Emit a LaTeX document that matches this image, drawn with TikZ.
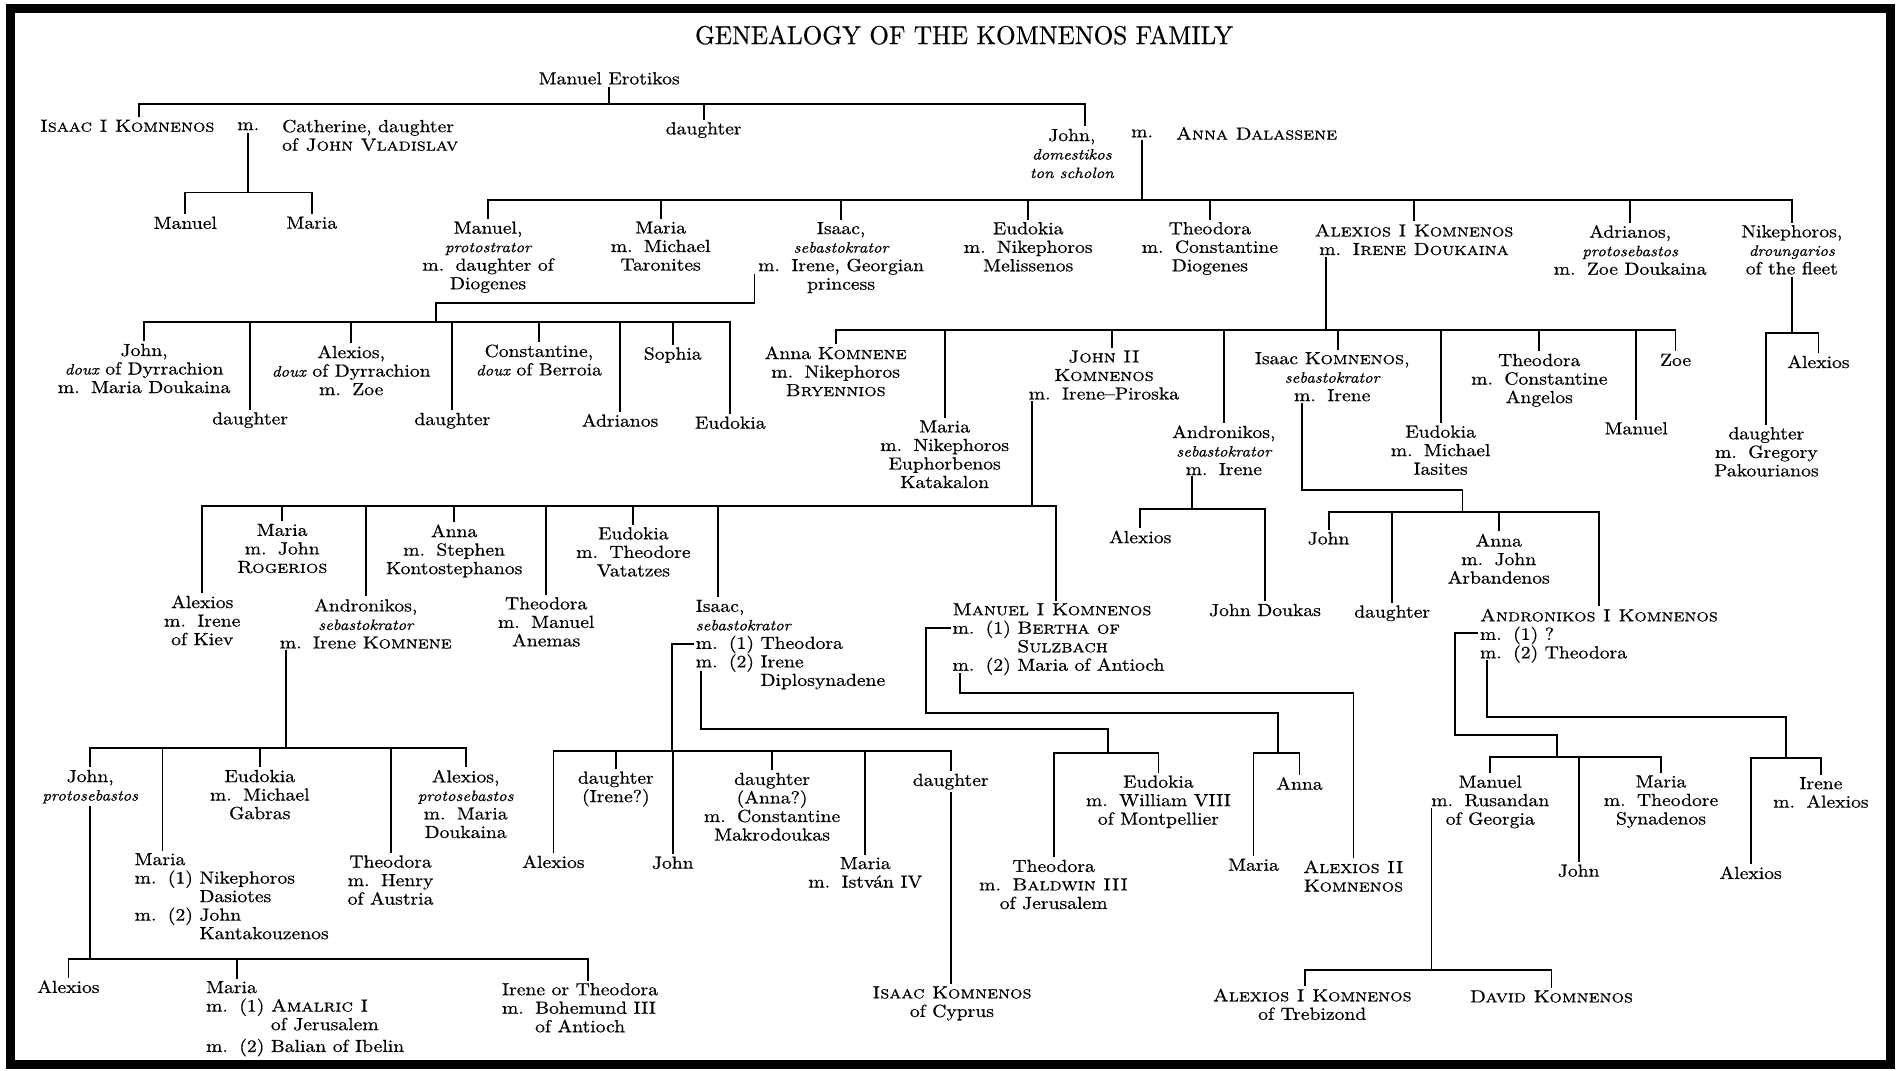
\documentclass[tikz,border=0pt]{standalone}
\usepackage{graphicx}
\usepackage{fontspec}
\setmainfont{lmroman10-regular.otf}[
  ItalicFont = lmroman10-italic.otf,
  BoldFont = lmroman10-bold.otf,
  SmallCapsFont = lmromancaps10-regular.otf,
  FakeStretch = 1.12,
  FakeBold = 0.6]
\usetikzlibrary{calc}

\newcommand{\wed}{m.\hspace{0.65em}}
\newcommand{\office}[1]{{\fontsize{9}{11.1}\selectfont\itshape #1}}

\tikzset{
  person/.style={anchor=north, yshift=5.2pt, inner sep=0pt, outer xsep=0pt, outer ysep=1.5pt,
    align=center, font=\fontsize{10.5}{11.1}\selectfont},
  personl/.style={person, anchor=north west, align=left},
  heading/.style={inner sep=0pt, font=\fontsize{15.5}{18}\selectfont},
}

\begin{document}
\begin{tikzpicture}[x=0.726pt, y=-0.726pt, line width=1.1pt]
\useasboundingbox (0,0) rectangle (1568,884);
\draw[line width=5.3pt] (9,7) rectangle (1561,879);
\node[heading] (title) at (796,29) {\scalebox{0.87}[1]{GENEALOGY OF THE KOMNENOS FAMILY}};

% first generations
\node[person] (erotikos) at (503,64.7) {Manuel Erotikos};
\node[person] (isaac1) at (105,104) {\textsc{Isaac I Komnenos}};
\node[person] (isaac1m) at (205,102.5) {\vphantom{d}m.};
\node[personl] (cath) at (233,104) {Catherine, daughter\\of \textsc{John Vladislav}};
\node[person] (eroDau) at (581,106) {daughter};
\node[person] (johnDom) at (885,111.5) {John,\\\office{domestikos}\\\office{ton scholon}};
\node[person] (johnM) at (943,108.5) {\vphantom{d}m.};
\node[personl] (anna) at (971,110) {\textsc{Anna Dalassene}};
\node[person] (manuelI) at (153,184) {Manuel};
\node[person] (mariaI) at (257.5,184) {Maria};

% children of John and Anna
\node[person] (manProt) at (403,188) {Manuel,\\\office{protostrator}\\\wed daughter of\\Diogenes};
\node[person] (mariaTar) at (545.5,188) {Maria\\\wed Michael\\Taronites};
\node[person] (isaacSeb) at (694.5,188.5) {Isaac,\\\office{sebastokrator}\\\wed Irene, Georgian\\princess};
\node[person] (eudMel) at (849,188.5) {Eudokia\\\wed Nikephoros\\Melissenos};
\node[person] (theoDio) at (999,188.5) {Theodora\\\wed Constantine\\Diogenes};
\node[person] (alexios1) at (1167.5,190) {\textsc{Alexios I Komnenos}\\\wed\textsc{Irene Doukaina}};
\node[person] (adrianos) at (1346,191) {Adrianos,\\\office{protosebastos}\\\wed Zoe Doukaina};
\node[person] (nikDr) at (1479.5,191) {Nikephoros,\\\office{droungarios}\\of the fleet};

% third generation
\node[person] (johnDyr) at (119,289) {John,\\\office{doux} of Dyrrachion\\\wed Maria Doukaina};
\node[person] (dauA) at (206.5,345.5) {daughter};
\node[person] (alexDyr) at (290,290.4) {Alexios,\\\office{doux} of Dyrrachion\\\wed Zoe};
\node[person] (dauB) at (373.5,346) {daughter};
\node[person] (constBer) at (445,289.6) {Constantine,\\\office{doux} of Berroia};
\node[person] (adrB) at (512,347) {Adrianos};
\node[person] (sophia) at (555.5,291.8) {Sophia};
\node[person] (eudB) at (603,349) {Eudokia};
\node[person] (annaK) at (690,291.2) {Anna \textsc{Komnene}\\\wed Nikephoros\\\textsc{Bryennios}};
\node[person] (mariaKat) at (780,352.3) {Maria\\\wed Nikephoros\\Euphorbenos\\Katakalon};
\node[person] (john2) at (911.5,294.5) {\textsc{John II}\\\textsc{Komnenos}\\\wed Irene--Piroska};
\node[person] (andrSeb) at (1010.5,356.4) {Andronikos,\\\office{sebastokrator}\\\wed Irene};
\node[person] (isaacK) at (1100,295.9) {Isaac \textsc{Komnenos},\\\office{sebastokrator}\\\wed Irene};
\node[person] (eudIas) at (1189.5,356.4) {Eudokia\\\wed Michael\\Iasites};
\node[person] (theoAng) at (1271,297.3) {Theodora\\\wed Constantine\\Angelos};
\node[person] (manuelZ) at (1351,353.7) {Manuel};
\node[person] (zoe) at (1383.5,297.3) {Zoe};
\node[person] (dauPak) at (1458.5,357.8) {daughter\\\wed Gregory\\Pakourianos};
\node[person] (alexN) at (1501.5,298.6) {Alexios};

% fourth generation
\node[person] (alexKiev) at (167,496.8) {Alexios\\\wed Irene\\of Kiev};
\node[person] (mariaRog) at (233,437.7) {Maria\\\wed John\\\textsc{Rogerios}};
\node[person] (andrK) at (302,499.6) {Andronikos,\\\office{sebastokrator}\\\wed Irene \textsc{Komnene}};
\node[person] (annaKon) at (375,438.2) {Anna\\\wed Stephen\\Kontostephanos};
\node[person] (theoAn) at (451,498.2) {Theodora\\\wed Manuel\\Anemas};
\node[person] (eudVat) at (523,440.4) {Eudokia\\\wed Theodore\\Vatatzes};
\node[personl] (isaacS2) at (574.5,500.4) {Isaac,\\\office{sebastokrator}\\\wed(1) Theodora\\\wed(2) Irene\\\phantom{\wed(2) }Diplosynadene};
\node[personl] (manuel1) at (786.5,503.2) {\textsc{Manuel I Komnenos}\\\wed(1) \textsc{Bertha of}\\\phantom{\wed(1) }\textsc{Sulzbach}\\\wed(2) Maria of Antioch};
\node[person] (alexA) at (941.5,443.2) {Alexios};
\node[person] (johnDouk) at (1044.5,503.7) {John Doukas};
\node[person] (johnI) at (1097,444.5) {John};
\node[person] (dauI) at (1149.5,505) {daughter};
\node[person] (annaArb) at (1237.5,446) {Anna\\\wed John\\Arbandenos};
\node[personl] (andr1) at (1222,507.8) {\textsc{Andronikos I Komnenos}\\\wed(1) ?\\\wed(2) Theodora};

% fifth generation
\node[person] (johnPS) at (74.5,640.8) {John,\\\office{protosebastos}};
\node[personl] (mariaDas) at (111.2,709.5) {Maria\\\wed(1) Nikephoros\\\phantom{\wed(1) }Dasiotes\\\wed(2) John\\\phantom{\wed(2) }Kantakouzenos};
\node[person] (eudGab) at (214.5,640.8) {Eudokia\\\wed Michael\\Gabras};
\node[person] (theoAus) at (322.5,711.4) {Theodora\\\wed Henry\\of Austria};
\node[person] (alexPS) at (384.5,640.8) {Alexios,\\\office{protosebastos}\\\wed Maria\\Doukaina};
\node[person] (alexI) at (457,711.4) {Alexios};
\node[person] (dauIrene) at (508.5,642.1) {daughter\\(Irene?)};
\node[person] (johnI2) at (555.5,712.3) {John};
\node[person] (dauAnna) at (637.5,643.2) {daughter\\(Anna?)\\\wed Constantine\\Makrodoukas};
\node[person] (mariaIst) at (714.5,712.8) {Maria\\\wed István IV};
\node[person] (dauCyp) at (785,644) {daughter};
\node[person] (theoBal) at (870,715) {Theodora\\\wed\textsc{Baldwin III}\\of Jerusalem};
\node[person] (eudMont) at (956.5,645.4) {Eudokia\\\wed William VIII\\of Montpellier};
\node[person] (mariaM) at (1035,714.2) {Maria};
\node[person] (annaM) at (1073,646.8) {Anna};
\node[person] (alex2) at (1117.5,715.6) {\textsc{Alexios II}\\\textsc{Komnenos}};
\node[person] (manuelR) at (1230.5,645.4) {Manuel\\\wed Rusandan\\of Georgia};
\node[person] (johnR) at (1303.5,718.9) {John};
\node[person] (mariaSyn) at (1371.5,645.4) {Maria\\\wed Theodore\\Synadenos};
\node[person] (alexR) at (1445.5,720.5) {Alexios};
\node[person] (ireneR) at (1503.5,646.8) {Irene\\\wed Alexios};

% sixth generation
\node[person] (alexJ) at (56.5,814.6) {Alexios};
\node[personl] (mariaAm) at (170.2,815.2) {Maria\\\wed(1) \textsc{Amalric I}\\\phantom{\wed(1) }of Jerusalem\\[2pt]\wed(2) Balian of Ibelin};
\node[personl] (ireneBoh) at (414.5,816.8) {Irene or Theodora\\\wed Bohemund III\\\phantom{\wed}of Antioch};
\node[person] (isaacCyp) at (786,819.6) {\textsc{Isaac Komnenos}\\of Cyprus};
\node[person] (alexTreb) at (1083.5,821.5) {\textsc{Alexios I Komnenos}\\of Trebizond};
\node[person] (david) at (1281,822.9) {\textsc{David Komnenos}};

% Manuel Erotikos's children
\coordinate (bar1) at (502,86);
\coordinate (isaac1D) at ($(isaac1.north)+(9.6,0)$);
\coordinate (johnDomD) at ($(johnDom.north)+(11,0)$);
\draw (erotikos.south) -- (erotikos.south |- bar1);
\draw (isaac1D) |- (johnDomD |- bar1) -- (johnDomD);
\draw (eroDau.north) -- (eroDau.north |- bar1);

% Isaac I
\coordinate (isaac1Bar) at (205,159);
\draw (isaac1m.south) -- (isaac1m.south |- isaac1Bar);
\draw (manuelI.north) |- (mariaI.north |- isaac1Bar) -- (mariaI.north);

% John and Anna
\coordinate (johnBar) at (943,165);
\draw (johnM.south) -- (johnM.south |- johnBar);
\draw (manProt.north) |- (nikDr.north |- johnBar) -- (nikDr.north);
\foreach \c in {mariaTar.north, isaacSeb.north, eudMel.north, theoDio.north, alexios1.north, adrianos.north}
  \draw (\c) -- (\c |- johnBar);

% Isaac, sebastokrator
\coordinate (isaacSebM) at (623,226);
\coordinate (isaacSebBar) at (360,266);
\draw (isaacSebM) -- ++(0,24.5) -| (isaacSebBar);
\draw (johnDyr.north) |- (eudB.north |- isaacSebBar) -- (eudB.north);
\foreach \c in {dauA.north, alexDyr.north, dauB.north, constBer.north, adrB.north, sophia.north}
  \draw (\c) -- (\c |- isaacSebBar);

% Alexios I
\coordinate (alexios1M) at (1095,212);
\coordinate (alexios1Bar) at (1095,272.5);
\coordinate (john2D) at ($(john2.north)+(7,0)$);
\coordinate (isaacKD) at ($(isaacK.north)+(5,0)$);
\draw (alexios1M) -- (alexios1Bar);
\draw (annaK.north) |- (zoe.north |- alexios1Bar) -- (zoe.north);
\foreach \c in {mariaKat.north, john2D, andrSeb.north, isaacKD, eudIas.north, theoAng.north, manuelZ.north}
  \draw (\c) -- (\c |- alexios1Bar);

% Nikephoros
\coordinate (nikBar) at (1479.5,275);
\draw (nikDr.south) -- (nikDr.south |- nikBar);
\draw (dauPak.north) |- (alexN.north |- nikBar) -- (alexN.north);

% John II
\coordinate (john2M) at (852,331);
\coordinate (john2Bar) at (852,418);
\coordinate (isaacS2D) at ($(isaacS2.north west)+(18,0)$);
\coordinate (manuel1D) at ($(manuel1.north west)+(85.2,0)$);
\draw (john2M) -- (john2Bar);
\draw (alexKiev.north) |- (manuel1D |- john2Bar) -- (manuel1D);
\foreach \c in {mariaRog.north, andrK.north, annaKon.north, theoAn.north, eudVat.north, isaacS2D}
  \draw (\c) -- (\c |- john2Bar);

% Andronikos, sebastokrator
\coordinate (andrSebM) at (984,393);
\coordinate (andrSebBar) at (984,420.5);
\draw (andrSebM) -- (andrSebBar);
\draw (alexA.north) |- (johnDouk.north |- andrSebBar) -- (johnDouk.north);

% Isaac Komnenos
\coordinate (isaacKM) at (1075,333);
\coordinate (isaacKBar) at (1207.6,422.5);
\coordinate (andr1D) at ($(andr1.north west)+(98.4,0)$);
\draw (isaacKM) -- ++(0,71.6) -| (isaacKBar);
\draw (johnI.north) |- (andr1D |- isaacKBar) -- (andr1D);
\foreach \c in {dauI.north, annaArb.north}
  \draw (\c) -- (\c |- isaacKBar);

% Andronikos, son of John II
\coordinate (andrKM) at (236,537);
\coordinate (andrKBar) at (236,617.5);
\coordinate (mariaDasD) at ($(mariaDas.north west)+(23,0)$);
\draw (andrKM) -- (andrKBar);
\draw (johnPS.north) |- (alexPS.north |- andrKBar) -- (alexPS.north);
\foreach \c in {mariaDasD, eudGab.north, theoAus.north}
  \draw (\c) -- (\c |- andrKBar);

% Isaac, son of John II
\coordinate (isaacS2M1) at (573,531.8);
\coordinate (isaacS2Bar1) at (555,620);
\coordinate (isaacS2M2) at (579,554);
\coordinate (isaacS2Bar2) at (915,622);
\draw (isaacS2M1) -| (isaacS2Bar1);
\draw (alexI.north) |- (dauCyp.north |- isaacS2Bar1) -- (dauCyp.north);
\foreach \c in {dauIrene.north, johnI2.north, dauAnna.north, mariaIst.north}
  \draw (\c) -- (\c |- isaacS2Bar1);
\draw (isaacS2M2) -- ++(0,48.2) -| (isaacS2Bar2);
\draw (theoBal.north) |- (eudMont.north |- isaacS2Bar2) -- (eudMont.north);
\draw (dauCyp.south) -- (dauCyp.south |- isaacCyp.north);

% Manuel I
\coordinate (manuel1M1) at (785,518.8);
\coordinate (manuel1Bar1) at (1055.5,622);
\coordinate (manuel1M2) at (793,556);
\draw (manuel1M1) -- ++(-20.4,0) -- ++(0,69.7) -| (manuel1Bar1);
\draw (mariaM.north) |- (annaM.north |- manuel1Bar1) -- (annaM.north);
\draw (manuel1M2) -- ++(0,16) -| (alex2.north);

% Andronikos I
\coordinate (andr1M1) at (1220.5,523);
\coordinate (andr1Bar1) at (1285.4,624.8);
\coordinate (andr1M2) at (1228,545);
\coordinate (andr1Bar2) at (1474.5,626.2);
\draw (andr1M1) -- ++(-19.2,0) -- ++(0,83.9) -| (andr1Bar1);
\draw (manuelR.north) |- (mariaSyn.north |- andr1Bar1) -- (mariaSyn.north);
\draw (johnR.north) -- (johnR.north |- andr1Bar1);
\draw (andr1M2) -- ++(0,46.8) -| (andr1Bar2);
\draw (alexR.north) |- (ireneR.north |- andr1Bar2) -- (ireneR.north);

% John, protosebastos
\coordinate (johnPSBar) at (74,792);
\coordinate (mariaAmD) at ($(mariaAm.north west)+(25.3,0)$);
\coordinate (ireneBohD) at ($(ireneBoh.north west)+(70.8,0)$);
\draw (johnPS.south) -- (johnPS.south |- johnPSBar);
\draw (alexJ.north) |- (ireneBohD |- johnPSBar) -- (ireneBohD);
\draw (mariaAmD) -- (mariaAmD |- johnPSBar);

% Manuel m. Rusandan
\coordinate (manuelRM) at (1182,667);
\coordinate (manuelRBar) at (1182,801);
\coordinate (alexTrebD) at ($(alexTreb.north)+(-6,0)$);
\draw (manuelRM) -- (manuelRBar);
\draw (alexTrebD) |- (david.north |- manuelRBar) -- (david.north);
\end{tikzpicture}
\end{document}
